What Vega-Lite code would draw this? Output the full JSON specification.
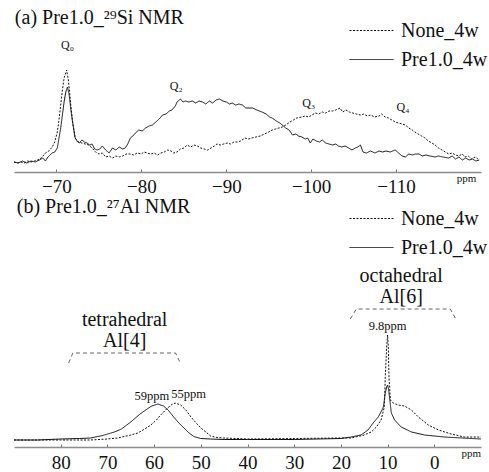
{
  "$schema": "https://vega.github.io/schema/vega-lite/v6.json",
  "padding": {"left": 12, "top": 0, "right": 0, "bottom": 0},
  "background": "white",
  "config": {
    "font": "Liberation Serif",
    "view": {"stroke": null},
    "axis": {
      "domainColor": "#8c8c8c",
      "domainWidth": 1.5,
      "tickColor": "#777",
      "tickSize": -3,
      "labelPadding": 9,
      "labelFontSize": 19,
      "labelColor": "#111",
      "labelFont": "Liberation Serif",
      "grid": false,
      "title": null
    },
    "legend": {"labelFont": "Liberation Serif", "labelColor": "#111"}
  },
  "datasets": {
    "si": [
      {"ppm": -65.0, "v": 10, "s": "Pre1.0_4w"}, {"ppm": -65.5, "v": 9, "s": "Pre1.0_4w"}, {"ppm": -66.0, "v": 11, "s": "Pre1.0_4w"}, {"ppm": -66.5, "v": 9, "s": "Pre1.0_4w"}, {"ppm": -67.0, "v": 11, "s": "Pre1.0_4w"}, {"ppm": -67.5, "v": 10, "s": "Pre1.0_4w"}, {"ppm": -68.0, "v": 12, "s": "Pre1.0_4w"}, {"ppm": -68.4, "v": 14, "s": "Pre1.0_4w"}, {"ppm": -68.7, "v": 11, "s": "Pre1.0_4w"}, {"ppm": -69.0, "v": 15, "s": "Pre1.0_4w"}, {"ppm": -69.5, "v": 19, "s": "Pre1.0_4w"}, {"ppm": -69.8, "v": 20, "s": "Pre1.0_4w"}, {"ppm": -70.1, "v": 24, "s": "Pre1.0_4w"}, {"ppm": -70.5, "v": 44, "s": "Pre1.0_4w"}, {"ppm": -70.9, "v": 70, "s": "Pre1.0_4w"}, {"ppm": -71.1, "v": 80, "s": "Pre1.0_4w"}, {"ppm": -71.3, "v": 85, "s": "Pre1.0_4w"}, {"ppm": -71.5, "v": 77, "s": "Pre1.0_4w"}, {"ppm": -71.7, "v": 62, "s": "Pre1.0_4w"}, {"ppm": -71.9, "v": 50, "s": "Pre1.0_4w"}, {"ppm": -72.2, "v": 34, "s": "Pre1.0_4w"}, {"ppm": -72.5, "v": 30, "s": "Pre1.0_4w"}, {"ppm": -72.7, "v": 29, "s": "Pre1.0_4w"}, {"ppm": -73.0, "v": 32, "s": "Pre1.0_4w"}, {"ppm": -73.3, "v": 30, "s": "Pre1.0_4w"}, {"ppm": -73.6, "v": 29, "s": "Pre1.0_4w"}, {"ppm": -73.9, "v": 27, "s": "Pre1.0_4w"}, {"ppm": -74.2, "v": 28, "s": "Pre1.0_4w"}, {"ppm": -74.5, "v": 23, "s": "Pre1.0_4w"}, {"ppm": -74.8, "v": 22, "s": "Pre1.0_4w"}, {"ppm": -75.1, "v": 23, "s": "Pre1.0_4w"}, {"ppm": -75.4, "v": 26, "s": "Pre1.0_4w"}, {"ppm": -75.8, "v": 22, "s": "Pre1.0_4w"}, {"ppm": -76.2, "v": 19, "s": "Pre1.0_4w"}, {"ppm": -76.6, "v": 24, "s": "Pre1.0_4w"}, {"ppm": -77.0, "v": 22, "s": "Pre1.0_4w"}, {"ppm": -77.4, "v": 25, "s": "Pre1.0_4w"}, {"ppm": -77.8, "v": 23, "s": "Pre1.0_4w"}, {"ppm": -78.1, "v": 24, "s": "Pre1.0_4w"}, {"ppm": -78.4, "v": 28, "s": "Pre1.0_4w"}, {"ppm": -78.7, "v": 34, "s": "Pre1.0_4w"}, {"ppm": -79.0, "v": 36, "s": "Pre1.0_4w"}, {"ppm": -79.3, "v": 39, "s": "Pre1.0_4w"}, {"ppm": -79.7, "v": 42, "s": "Pre1.0_4w"}, {"ppm": -80.1, "v": 41, "s": "Pre1.0_4w"}, {"ppm": -80.5, "v": 44, "s": "Pre1.0_4w"}, {"ppm": -80.9, "v": 46, "s": "Pre1.0_4w"}, {"ppm": -81.3, "v": 47, "s": "Pre1.0_4w"}, {"ppm": -81.7, "v": 50, "s": "Pre1.0_4w"}, {"ppm": -82.1, "v": 53, "s": "Pre1.0_4w"}, {"ppm": -82.5, "v": 57, "s": "Pre1.0_4w"}, {"ppm": -82.9, "v": 58, "s": "Pre1.0_4w"}, {"ppm": -83.3, "v": 61, "s": "Pre1.0_4w"}, {"ppm": -83.6, "v": 62, "s": "Pre1.0_4w"}, {"ppm": -84.0, "v": 66, "s": "Pre1.0_4w"}, {"ppm": -84.2, "v": 70, "s": "Pre1.0_4w"}, {"ppm": -84.6, "v": 73, "s": "Pre1.0_4w"}, {"ppm": -84.9, "v": 70, "s": "Pre1.0_4w"}, {"ppm": -85.2, "v": 71, "s": "Pre1.0_4w"}, {"ppm": -85.6, "v": 70, "s": "Pre1.0_4w"}, {"ppm": -86.0, "v": 71, "s": "Pre1.0_4w"}, {"ppm": -86.4, "v": 69, "s": "Pre1.0_4w"}, {"ppm": -86.8, "v": 71, "s": "Pre1.0_4w"}, {"ppm": -87.2, "v": 70, "s": "Pre1.0_4w"}, {"ppm": -87.6, "v": 68, "s": "Pre1.0_4w"}, {"ppm": -88.0, "v": 71, "s": "Pre1.0_4w"}, {"ppm": -88.4, "v": 69, "s": "Pre1.0_4w"}, {"ppm": -88.8, "v": 72, "s": "Pre1.0_4w"}, {"ppm": -89.2, "v": 73, "s": "Pre1.0_4w"}, {"ppm": -89.6, "v": 71, "s": "Pre1.0_4w"}, {"ppm": -90.0, "v": 70, "s": "Pre1.0_4w"}, {"ppm": -90.4, "v": 68, "s": "Pre1.0_4w"}, {"ppm": -90.7, "v": 69, "s": "Pre1.0_4w"}, {"ppm": -91.1, "v": 67, "s": "Pre1.0_4w"}, {"ppm": -91.5, "v": 68, "s": "Pre1.0_4w"}, {"ppm": -91.9, "v": 67, "s": "Pre1.0_4w"}, {"ppm": -92.3, "v": 64, "s": "Pre1.0_4w"}, {"ppm": -92.7, "v": 64, "s": "Pre1.0_4w"}, {"ppm": -93.1, "v": 64, "s": "Pre1.0_4w"}, {"ppm": -93.6, "v": 62, "s": "Pre1.0_4w"}, {"ppm": -94.2, "v": 60, "s": "Pre1.0_4w"}, {"ppm": -94.7, "v": 58, "s": "Pre1.0_4w"}, {"ppm": -95.1, "v": 55, "s": "Pre1.0_4w"}, {"ppm": -95.4, "v": 54, "s": "Pre1.0_4w"}, {"ppm": -95.9, "v": 51, "s": "Pre1.0_4w"}, {"ppm": -96.3, "v": 49, "s": "Pre1.0_4w"}, {"ppm": -96.6, "v": 47, "s": "Pre1.0_4w"}, {"ppm": -97.0, "v": 44, "s": "Pre1.0_4w"}, {"ppm": -97.4, "v": 42, "s": "Pre1.0_4w"}, {"ppm": -97.8, "v": 37, "s": "Pre1.0_4w"}, {"ppm": -98.2, "v": 38, "s": "Pre1.0_4w"}, {"ppm": -98.5, "v": 36, "s": "Pre1.0_4w"}, {"ppm": -98.9, "v": 35, "s": "Pre1.0_4w"}, {"ppm": -99.3, "v": 33, "s": "Pre1.0_4w"}, {"ppm": -99.6, "v": 34, "s": "Pre1.0_4w"}, {"ppm": -99.9, "v": 29, "s": "Pre1.0_4w"}, {"ppm": -100.2, "v": 33, "s": "Pre1.0_4w"}, {"ppm": -100.6, "v": 31, "s": "Pre1.0_4w"}, {"ppm": -101.0, "v": 30, "s": "Pre1.0_4w"}, {"ppm": -101.3, "v": 32, "s": "Pre1.0_4w"}, {"ppm": -101.7, "v": 29, "s": "Pre1.0_4w"}, {"ppm": -102.1, "v": 28, "s": "Pre1.0_4w"}, {"ppm": -102.5, "v": 27, "s": "Pre1.0_4w"}, {"ppm": -102.9, "v": 28, "s": "Pre1.0_4w"}, {"ppm": -103.2, "v": 26, "s": "Pre1.0_4w"}, {"ppm": -103.6, "v": 25, "s": "Pre1.0_4w"}, {"ppm": -104.0, "v": 26, "s": "Pre1.0_4w"}, {"ppm": -104.4, "v": 24, "s": "Pre1.0_4w"}, {"ppm": -104.8, "v": 22, "s": "Pre1.0_4w"}, {"ppm": -105.2, "v": 24, "s": "Pre1.0_4w"}, {"ppm": -105.5, "v": 25, "s": "Pre1.0_4w"}, {"ppm": -105.8, "v": 27, "s": "Pre1.0_4w"}, {"ppm": -106.1, "v": 20, "s": "Pre1.0_4w"}, {"ppm": -106.5, "v": 19, "s": "Pre1.0_4w"}, {"ppm": -107.0, "v": 21, "s": "Pre1.0_4w"}, {"ppm": -107.5, "v": 19, "s": "Pre1.0_4w"}, {"ppm": -108.0, "v": 21, "s": "Pre1.0_4w"}, {"ppm": -108.4, "v": 20, "s": "Pre1.0_4w"}, {"ppm": -108.8, "v": 21, "s": "Pre1.0_4w"}, {"ppm": -109.3, "v": 20, "s": "Pre1.0_4w"}, {"ppm": -109.9, "v": 22, "s": "Pre1.0_4w"}, {"ppm": -110.3, "v": 19, "s": "Pre1.0_4w"}, {"ppm": -110.7, "v": 16, "s": "Pre1.0_4w"}, {"ppm": -111.1, "v": 15, "s": "Pre1.0_4w"}, {"ppm": -111.5, "v": 18, "s": "Pre1.0_4w"}, {"ppm": -111.9, "v": 17, "s": "Pre1.0_4w"}, {"ppm": -112.3, "v": 18, "s": "Pre1.0_4w"}, {"ppm": -112.7, "v": 18, "s": "Pre1.0_4w"}, {"ppm": -113.1, "v": 16, "s": "Pre1.0_4w"}, {"ppm": -113.5, "v": 17, "s": "Pre1.0_4w"}, {"ppm": -114.0, "v": 16, "s": "Pre1.0_4w"}, {"ppm": -114.6, "v": 15, "s": "Pre1.0_4w"}, {"ppm": -115.0, "v": 16, "s": "Pre1.0_4w"}, {"ppm": -115.5, "v": 15, "s": "Pre1.0_4w"}, {"ppm": -116.2, "v": 14, "s": "Pre1.0_4w"}, {"ppm": -116.6, "v": 16, "s": "Pre1.0_4w"}, {"ppm": -117.0, "v": 13, "s": "Pre1.0_4w"}, {"ppm": -117.4, "v": 15, "s": "Pre1.0_4w"}, {"ppm": -117.8, "v": 12, "s": "Pre1.0_4w"}, {"ppm": -118.2, "v": 14, "s": "Pre1.0_4w"}, {"ppm": -118.6, "v": 12, "s": "Pre1.0_4w"}, {"ppm": -119.0, "v": 13, "s": "Pre1.0_4w"}, {"ppm": -119.4, "v": 11, "s": "Pre1.0_4w"}, {"ppm": -119.8, "v": 12, "s": "Pre1.0_4w"},
      {"ppm": -65.0, "v": 10, "s": "None_4w"}, {"ppm": -65.4, "v": 9, "s": "None_4w"}, {"ppm": -65.8, "v": 10, "s": "None_4w"}, {"ppm": -66.2, "v": 9, "s": "None_4w"}, {"ppm": -66.6, "v": 11, "s": "None_4w"}, {"ppm": -67.0, "v": 10, "s": "None_4w"}, {"ppm": -67.4, "v": 11, "s": "None_4w"}, {"ppm": -67.8, "v": 12, "s": "None_4w"}, {"ppm": -68.2, "v": 14, "s": "None_4w"}, {"ppm": -68.7, "v": 19, "s": "None_4w"}, {"ppm": -69.1, "v": 21, "s": "None_4w"}, {"ppm": -69.5, "v": 25, "s": "None_4w"}, {"ppm": -69.8, "v": 30, "s": "None_4w"}, {"ppm": -70.1, "v": 40, "s": "None_4w"}, {"ppm": -70.3, "v": 52, "s": "None_4w"}, {"ppm": -70.5, "v": 67, "s": "None_4w"}, {"ppm": -70.7, "v": 82, "s": "None_4w"}, {"ppm": -70.9, "v": 94, "s": "None_4w"}, {"ppm": -71.2, "v": 102, "s": "None_4w"}, {"ppm": -71.4, "v": 92, "s": "None_4w"}, {"ppm": -71.5, "v": 84, "s": "None_4w"}, {"ppm": -71.7, "v": 66, "s": "None_4w"}, {"ppm": -71.9, "v": 50, "s": "None_4w"}, {"ppm": -72.2, "v": 34, "s": "None_4w"}, {"ppm": -72.6, "v": 30, "s": "None_4w"}, {"ppm": -73.0, "v": 29, "s": "None_4w"}, {"ppm": -73.4, "v": 28, "s": "None_4w"}, {"ppm": -73.8, "v": 27, "s": "None_4w"}, {"ppm": -74.2, "v": 24, "s": "None_4w"}, {"ppm": -74.6, "v": 20, "s": "None_4w"}, {"ppm": -75.0, "v": 18, "s": "None_4w"}, {"ppm": -75.4, "v": 19, "s": "None_4w"}, {"ppm": -75.8, "v": 15, "s": "None_4w"}, {"ppm": -76.2, "v": 16, "s": "None_4w"}, {"ppm": -76.6, "v": 14, "s": "None_4w"}, {"ppm": -77.0, "v": 16, "s": "None_4w"}, {"ppm": -77.4, "v": 15, "s": "None_4w"}, {"ppm": -77.8, "v": 16, "s": "None_4w"}, {"ppm": -78.2, "v": 18, "s": "None_4w"}, {"ppm": -78.7, "v": 18, "s": "None_4w"}, {"ppm": -79.1, "v": 17, "s": "None_4w"}, {"ppm": -79.5, "v": 19, "s": "None_4w"}, {"ppm": -80.0, "v": 18, "s": "None_4w"}, {"ppm": -80.3, "v": 20, "s": "None_4w"}, {"ppm": -80.7, "v": 19, "s": "None_4w"}, {"ppm": -81.1, "v": 18, "s": "None_4w"}, {"ppm": -81.5, "v": 19, "s": "None_4w"}, {"ppm": -81.9, "v": 17, "s": "None_4w"}, {"ppm": -82.3, "v": 19, "s": "None_4w"}, {"ppm": -82.7, "v": 20, "s": "None_4w"}, {"ppm": -83.1, "v": 22, "s": "None_4w"}, {"ppm": -83.5, "v": 21, "s": "None_4w"}, {"ppm": -83.8, "v": 19, "s": "None_4w"}, {"ppm": -84.2, "v": 20, "s": "None_4w"}, {"ppm": -84.6, "v": 23, "s": "None_4w"}, {"ppm": -85.0, "v": 24, "s": "None_4w"}, {"ppm": -85.4, "v": 27, "s": "None_4w"}, {"ppm": -85.8, "v": 25, "s": "None_4w"}, {"ppm": -86.2, "v": 27, "s": "None_4w"}, {"ppm": -86.6, "v": 26, "s": "None_4w"}, {"ppm": -87.0, "v": 24, "s": "None_4w"}, {"ppm": -87.4, "v": 23, "s": "None_4w"}, {"ppm": -87.8, "v": 22, "s": "None_4w"}, {"ppm": -88.2, "v": 24, "s": "None_4w"}, {"ppm": -88.6, "v": 26, "s": "None_4w"}, {"ppm": -88.9, "v": 28, "s": "None_4w"}, {"ppm": -89.3, "v": 27, "s": "None_4w"}, {"ppm": -89.7, "v": 28, "s": "None_4w"}, {"ppm": -90.1, "v": 29, "s": "None_4w"}, {"ppm": -90.5, "v": 28, "s": "None_4w"}, {"ppm": -90.9, "v": 30, "s": "None_4w"}, {"ppm": -91.3, "v": 30, "s": "None_4w"}, {"ppm": -91.7, "v": 31, "s": "None_4w"}, {"ppm": -92.2, "v": 34, "s": "None_4w"}, {"ppm": -92.6, "v": 33, "s": "None_4w"}, {"ppm": -93.0, "v": 34, "s": "None_4w"}, {"ppm": -93.5, "v": 35, "s": "None_4w"}, {"ppm": -94.0, "v": 36, "s": "None_4w"}, {"ppm": -94.5, "v": 38, "s": "None_4w"}, {"ppm": -95.0, "v": 40, "s": "None_4w"}, {"ppm": -95.4, "v": 42, "s": "None_4w"}, {"ppm": -95.8, "v": 43, "s": "None_4w"}, {"ppm": -96.2, "v": 44, "s": "None_4w"}, {"ppm": -96.6, "v": 45, "s": "None_4w"}, {"ppm": -97.0, "v": 47, "s": "None_4w"}, {"ppm": -97.5, "v": 50, "s": "None_4w"}, {"ppm": -97.9, "v": 52, "s": "None_4w"}, {"ppm": -98.3, "v": 54, "s": "None_4w"}, {"ppm": -98.9, "v": 55, "s": "None_4w"}, {"ppm": -99.3, "v": 56, "s": "None_4w"}, {"ppm": -99.7, "v": 55, "s": "None_4w"}, {"ppm": -100.1, "v": 57, "s": "None_4w"}, {"ppm": -100.5, "v": 59, "s": "None_4w"}, {"ppm": -100.9, "v": 58, "s": "None_4w"}, {"ppm": -101.3, "v": 60, "s": "None_4w"}, {"ppm": -101.7, "v": 59, "s": "None_4w"}, {"ppm": -102.1, "v": 61, "s": "None_4w"}, {"ppm": -102.5, "v": 61, "s": "None_4w"}, {"ppm": -102.9, "v": 62, "s": "None_4w"}, {"ppm": -103.4, "v": 64, "s": "None_4w"}, {"ppm": -103.7, "v": 60, "s": "None_4w"}, {"ppm": -104.1, "v": 62, "s": "None_4w"}, {"ppm": -104.5, "v": 60, "s": "None_4w"}, {"ppm": -104.9, "v": 59, "s": "None_4w"}, {"ppm": -105.3, "v": 58, "s": "None_4w"}, {"ppm": -105.8, "v": 57, "s": "None_4w"}, {"ppm": -106.2, "v": 58, "s": "None_4w"}, {"ppm": -106.6, "v": 56, "s": "None_4w"}, {"ppm": -107.0, "v": 57, "s": "None_4w"}, {"ppm": -107.5, "v": 55, "s": "None_4w"}, {"ppm": -108.0, "v": 56, "s": "None_4w"}, {"ppm": -108.3, "v": 58, "s": "None_4w"}, {"ppm": -108.7, "v": 55, "s": "None_4w"}, {"ppm": -109.1, "v": 54, "s": "None_4w"}, {"ppm": -109.5, "v": 52, "s": "None_4w"}, {"ppm": -109.9, "v": 50, "s": "None_4w"}, {"ppm": -110.3, "v": 49, "s": "None_4w"}, {"ppm": -110.7, "v": 48, "s": "None_4w"}, {"ppm": -111.1, "v": 47, "s": "None_4w"}, {"ppm": -111.5, "v": 44, "s": "None_4w"}, {"ppm": -111.9, "v": 42, "s": "None_4w"}, {"ppm": -112.2, "v": 40, "s": "None_4w"}, {"ppm": -112.6, "v": 38, "s": "None_4w"}, {"ppm": -113.0, "v": 36, "s": "None_4w"}, {"ppm": -113.4, "v": 34, "s": "None_4w"}, {"ppm": -113.8, "v": 31, "s": "None_4w"}, {"ppm": -114.2, "v": 29, "s": "None_4w"}, {"ppm": -114.6, "v": 27, "s": "None_4w"}, {"ppm": -115.0, "v": 24, "s": "None_4w"}, {"ppm": -115.4, "v": 22, "s": "None_4w"}, {"ppm": -115.8, "v": 20, "s": "None_4w"}, {"ppm": -116.2, "v": 18, "s": "None_4w"}, {"ppm": -116.6, "v": 19, "s": "None_4w"}, {"ppm": -117.0, "v": 17, "s": "None_4w"}, {"ppm": -117.4, "v": 16, "s": "None_4w"}, {"ppm": -117.8, "v": 18, "s": "None_4w"}, {"ppm": -118.1, "v": 15, "s": "None_4w"}, {"ppm": -118.5, "v": 16, "s": "None_4w"}, {"ppm": -118.9, "v": 13, "s": "None_4w"}, {"ppm": -119.3, "v": 15, "s": "None_4w"}, {"ppm": -119.8, "v": 12, "s": "None_4w"}
    ],
    "al": [
      {"ppm": 90, "v": 7, "s": "Pre1.0_4w"}, {"ppm": 85, "v": 7, "s": "Pre1.0_4w"}, {"ppm": 80, "v": 8, "s": "Pre1.0_4w"}, {"ppm": 76, "v": 8.5, "s": "Pre1.0_4w"}, {"ppm": 73.6, "v": 9, "s": "Pre1.0_4w"}, {"ppm": 71, "v": 11.5, "s": "Pre1.0_4w"}, {"ppm": 68.5, "v": 15, "s": "Pre1.0_4w"}, {"ppm": 67, "v": 18, "s": "Pre1.0_4w"}, {"ppm": 65, "v": 25, "s": "Pre1.0_4w"}, {"ppm": 63, "v": 33, "s": "Pre1.0_4w"}, {"ppm": 61.5, "v": 38, "s": "Pre1.0_4w"}, {"ppm": 60.5, "v": 41, "s": "Pre1.0_4w"}, {"ppm": 59.2, "v": 43, "s": "Pre1.0_4w"}, {"ppm": 58, "v": 41, "s": "Pre1.0_4w"}, {"ppm": 57, "v": 37, "s": "Pre1.0_4w"}, {"ppm": 55.8, "v": 30, "s": "Pre1.0_4w"}, {"ppm": 54.7, "v": 24, "s": "Pre1.0_4w"}, {"ppm": 53.6, "v": 19, "s": "Pre1.0_4w"}, {"ppm": 52.5, "v": 14, "s": "Pre1.0_4w"}, {"ppm": 51.5, "v": 10.5, "s": "Pre1.0_4w"}, {"ppm": 50, "v": 8.5, "s": "Pre1.0_4w"}, {"ppm": 48, "v": 8, "s": "Pre1.0_4w"}, {"ppm": 45, "v": 7.5, "s": "Pre1.0_4w"}, {"ppm": 40, "v": 7.5, "s": "Pre1.0_4w"}, {"ppm": 30, "v": 7.5, "s": "Pre1.0_4w"}, {"ppm": 20, "v": 8.5, "s": "Pre1.0_4w"}, {"ppm": 17.8, "v": 10, "s": "Pre1.0_4w"}, {"ppm": 15.7, "v": 12, "s": "Pre1.0_4w"}, {"ppm": 14.2, "v": 17, "s": "Pre1.0_4w"}, {"ppm": 13.1, "v": 24, "s": "Pre1.0_4w"}, {"ppm": 12, "v": 30, "s": "Pre1.0_4w"}, {"ppm": 11.3, "v": 36, "s": "Pre1.0_4w"}, {"ppm": 10.9, "v": 40, "s": "Pre1.0_4w"}, {"ppm": 10.5, "v": 54, "s": "Pre1.0_4w"}, {"ppm": 10.2, "v": 60, "s": "Pre1.0_4w"}, {"ppm": 10, "v": 62, "s": "Pre1.0_4w"}, {"ppm": 9.8, "v": 58, "s": "Pre1.0_4w"}, {"ppm": 9.6, "v": 50, "s": "Pre1.0_4w"}, {"ppm": 9.2, "v": 34, "s": "Pre1.0_4w"}, {"ppm": 8.5, "v": 27, "s": "Pre1.0_4w"}, {"ppm": 7.1, "v": 20, "s": "Pre1.0_4w"}, {"ppm": 4.9, "v": 15, "s": "Pre1.0_4w"}, {"ppm": 2.1, "v": 12, "s": "Pre1.0_4w"}, {"ppm": -2.1, "v": 10, "s": "Pre1.0_4w"}, {"ppm": -6, "v": 9, "s": "Pre1.0_4w"}, {"ppm": -10, "v": 8, "s": "Pre1.0_4w"},
      {"ppm": 90, "v": 7, "s": "None_4w"}, {"ppm": 80, "v": 7, "s": "None_4w"}, {"ppm": 73.6, "v": 7, "s": "None_4w"}, {"ppm": 70, "v": 8, "s": "None_4w"}, {"ppm": 67.8, "v": 9, "s": "None_4w"}, {"ppm": 65, "v": 12, "s": "None_4w"}, {"ppm": 63.5, "v": 14, "s": "None_4w"}, {"ppm": 62, "v": 18, "s": "None_4w"}, {"ppm": 60.7, "v": 22, "s": "None_4w"}, {"ppm": 59.5, "v": 27, "s": "None_4w"}, {"ppm": 58.6, "v": 32, "s": "None_4w"}, {"ppm": 57.1, "v": 39, "s": "None_4w"}, {"ppm": 56.2, "v": 42.5, "s": "None_4w"}, {"ppm": 55.5, "v": 44, "s": "None_4w"}, {"ppm": 54.3, "v": 42, "s": "None_4w"}, {"ppm": 53.2, "v": 37, "s": "None_4w"}, {"ppm": 52.1, "v": 30, "s": "None_4w"}, {"ppm": 51, "v": 24, "s": "None_4w"}, {"ppm": 50, "v": 19, "s": "None_4w"}, {"ppm": 48.9, "v": 15, "s": "None_4w"}, {"ppm": 47.9, "v": 11, "s": "None_4w"}, {"ppm": 46.5, "v": 9.5, "s": "None_4w"}, {"ppm": 45.1, "v": 9, "s": "None_4w"}, {"ppm": 40, "v": 8, "s": "None_4w"}, {"ppm": 30, "v": 8.5, "s": "None_4w"}, {"ppm": 20, "v": 9, "s": "None_4w"}, {"ppm": 17.8, "v": 9, "s": "None_4w"}, {"ppm": 15, "v": 12, "s": "None_4w"}, {"ppm": 13.5, "v": 15, "s": "None_4w"}, {"ppm": 12.4, "v": 20, "s": "None_4w"}, {"ppm": 11.4, "v": 27, "s": "None_4w"}, {"ppm": 10.7, "v": 40, "s": "None_4w"}, {"ppm": 10.5, "v": 70, "s": "None_4w"}, {"ppm": 10.2, "v": 100, "s": "None_4w"}, {"ppm": 10, "v": 112, "s": "None_4w"}, {"ppm": 9.85, "v": 100, "s": "None_4w"}, {"ppm": 9.7, "v": 70, "s": "None_4w"}, {"ppm": 9.4, "v": 47, "s": "None_4w"}, {"ppm": 8.8, "v": 44, "s": "None_4w"}, {"ppm": 7.7, "v": 42, "s": "None_4w"}, {"ppm": 6.4, "v": 41, "s": "None_4w"}, {"ppm": 4.9, "v": 37, "s": "None_4w"}, {"ppm": 3.4, "v": 30, "s": "None_4w"}, {"ppm": 1.3, "v": 22, "s": "None_4w"}, {"ppm": -0.9, "v": 17, "s": "None_4w"}, {"ppm": -3.6, "v": 13, "s": "None_4w"}, {"ppm": -6.4, "v": 10, "s": "None_4w"}, {"ppm": -10, "v": 10, "s": "None_4w"}
    ]
  },
  "bounds": "flush",
  "spacing": 28,
  "resolve": {
    "scale": {"x": "independent", "y": "independent", "strokeDash": "independent"},
    "legend": {"strokeDash": "independent"}
  },
  "vconcat": [
    {
      "width": 467,
      "height": 172,
      "layer": [
        {
          "data": {"name": "si"},
          "mark": {"type": "line", "strokeWidth": 1, "color": "#111"},
          "encoding": {
            "x": {"field": "ppm", "type": "quantitative", "scale": {"domain": [-120, -65], "reverse": true, "nice": false, "zero": false}, "axis": {"values": [-70, -80, -90, -100, -110], "labelPadding": 8}},
            "y": {"field": "v", "type": "quantitative", "scale": {"domain": [0, 172], "nice": false, "zero": false}, "axis": null},
            "strokeDash": {
              "field": "s", "type": "nominal",
              "scale": {"domain": ["None_4w", "Pre1.0_4w"], "range": [[2, 1.5], [1, 0]]},
              "legend": {"title": null, "orient": "none", "legendX": 342, "legendY": 15, "symbolType": "M-1.5,0H1.5", "symbolSize": 860, "symbolStrokeWidth": 1, "symbolStrokeColor": "#111", "symbolFillColor": "transparent", "labelFontSize": 20, "labelOffset": 14, "rowPadding": 3}
            }
          }
        },
        {
          "data": {"values": [{"ppm": -65.1, "v": 148, "label": "(a) Pre1.0_²⁹Si NMR"}]},
          "mark": {"type": "text", "align": "left", "baseline": "alphabetic", "fontSize": 20, "color": "#111"},
          "encoding": {"x": {"field": "ppm", "type": "quantitative"}, "y": {"field": "v", "type": "quantitative"}, "text": {"field": "label"}}
        },
        {
          "data": {"values": [
            {"ppm": -71.3, "v": 127, "label": "Q₀"},
            {"ppm": -84.1, "v": 86, "label": "Q₂"},
            {"ppm": -99.7, "v": 69, "label": "Q₃"},
            {"ppm": -110.8, "v": 65, "label": "Q₄"}
          ]},
          "mark": {"type": "text", "align": "center", "baseline": "middle", "fontSize": 12, "color": "#111"},
          "encoding": {"x": {"field": "ppm", "type": "quantitative"}, "y": {"field": "v", "type": "quantitative"}, "text": {"field": "label"}}
        },
        {
          "data": {"values": [{"ppm": -118.3, "v": -6.5, "label": "ppm"}]},
          "mark": {"type": "text", "align": "center", "baseline": "middle", "fontSize": 11, "color": "#111"},
          "encoding": {"x": {"field": "ppm", "type": "quantitative"}, "y": {"field": "v", "type": "quantitative"}, "text": {"field": "label"}}
        }
      ]
    },
    {
      "width": 467,
      "height": 247,
      "layer": [
        {
          "data": {"name": "al"},
          "mark": {"type": "line", "strokeWidth": 1, "color": "#111"},
          "encoding": {
            "x": {"field": "ppm", "type": "quantitative", "scale": {"domain": [-10, 90], "reverse": true, "nice": false, "zero": false}, "axis": {"values": [80, 70, 60, 50, 40, 30, 20, 10, 0]}},
            "y": {"field": "v", "type": "quantitative", "scale": {"domain": [0, 247], "nice": false, "zero": false}, "axis": null},
            "strokeDash": {
              "field": "s", "type": "nominal",
              "scale": {"domain": ["None_4w", "Pre1.0_4w"], "range": [[2, 1.5], [1, 0]]},
              "legend": {"title": null, "orient": "none", "legendX": 342, "legendY": 3, "symbolType": "M-1.5,0H1.5", "symbolSize": 860, "symbolStrokeWidth": 1, "symbolStrokeColor": "#111", "symbolFillColor": "transparent", "labelFontSize": 20, "labelOffset": 14, "rowPadding": 3}
            }
          }
        },
        {
          "data": {"values": [
            {"g": "tet", "i": 1, "ppm": 78.3, "v": 84}, {"g": "tet", "i": 2, "ppm": 77.4, "v": 94}, {"g": "tet", "i": 3, "ppm": 55.4, "v": 94}, {"g": "tet", "i": 4, "ppm": 54.5, "v": 85},
            {"g": "oct", "i": 1, "ppm": 18.0, "v": 128}, {"g": "oct", "i": 2, "ppm": 16.7, "v": 138}, {"g": "oct", "i": 3, "ppm": -3.4, "v": 138}, {"g": "oct", "i": 4, "ppm": -4.5, "v": 129}
          ]},
          "mark": {"type": "line", "strokeWidth": 1, "color": "#666", "strokeDash": [4, 3]},
          "encoding": {"x": {"field": "ppm", "type": "quantitative"}, "y": {"field": "v", "type": "quantitative"}, "detail": {"field": "g"}, "order": {"field": "i"}}
        },
        {
          "data": {"values": [{"ppm": 89.4, "v": 234, "label": "(b) Pre1.0_²⁷Al NMR"}]},
          "mark": {"type": "text", "align": "left", "baseline": "alphabetic", "fontSize": 20, "color": "#111"},
          "encoding": {"x": {"field": "ppm", "type": "quantitative"}, "y": {"field": "v", "type": "quantitative"}, "text": {"field": "label"}}
        },
        {
          "data": {"values": [
            {"ppm": 66.3, "v": 127, "label": "tetrahedral"},
            {"ppm": 66.3, "v": 106, "label": "Al[4]"},
            {"ppm": 7.1, "v": 171, "label": "octahedral"},
            {"ppm": 7.1, "v": 150, "label": "Al[6]"}
          ]},
          "mark": {"type": "text", "align": "center", "baseline": "middle", "fontSize": 20, "color": "#111"},
          "encoding": {"x": {"field": "ppm", "type": "quantitative"}, "y": {"field": "v", "type": "quantitative"}, "text": {"field": "label"}}
        },
        {
          "data": {"values": [
            {"ppm": 60.5, "v": 51, "label": "59ppm"},
            {"ppm": 52.6, "v": 53, "label": "55ppm"},
            {"ppm": 10.0, "v": 121, "label": "9.8ppm"}
          ]},
          "mark": {"type": "text", "align": "center", "baseline": "middle", "fontSize": 12.5, "color": "#111"},
          "encoding": {"x": {"field": "ppm", "type": "quantitative"}, "y": {"field": "v", "type": "quantitative"}, "text": {"field": "label"}}
        },
        {
          "data": {"values": [{"ppm": -7.9, "v": -6.5, "label": "ppm"}]},
          "mark": {"type": "text", "align": "center", "baseline": "middle", "fontSize": 11, "color": "#111"},
          "encoding": {"x": {"field": "ppm", "type": "quantitative"}, "y": {"field": "v", "type": "quantitative"}, "text": {"field": "label"}}
        }
      ]
    }
  ]
}
